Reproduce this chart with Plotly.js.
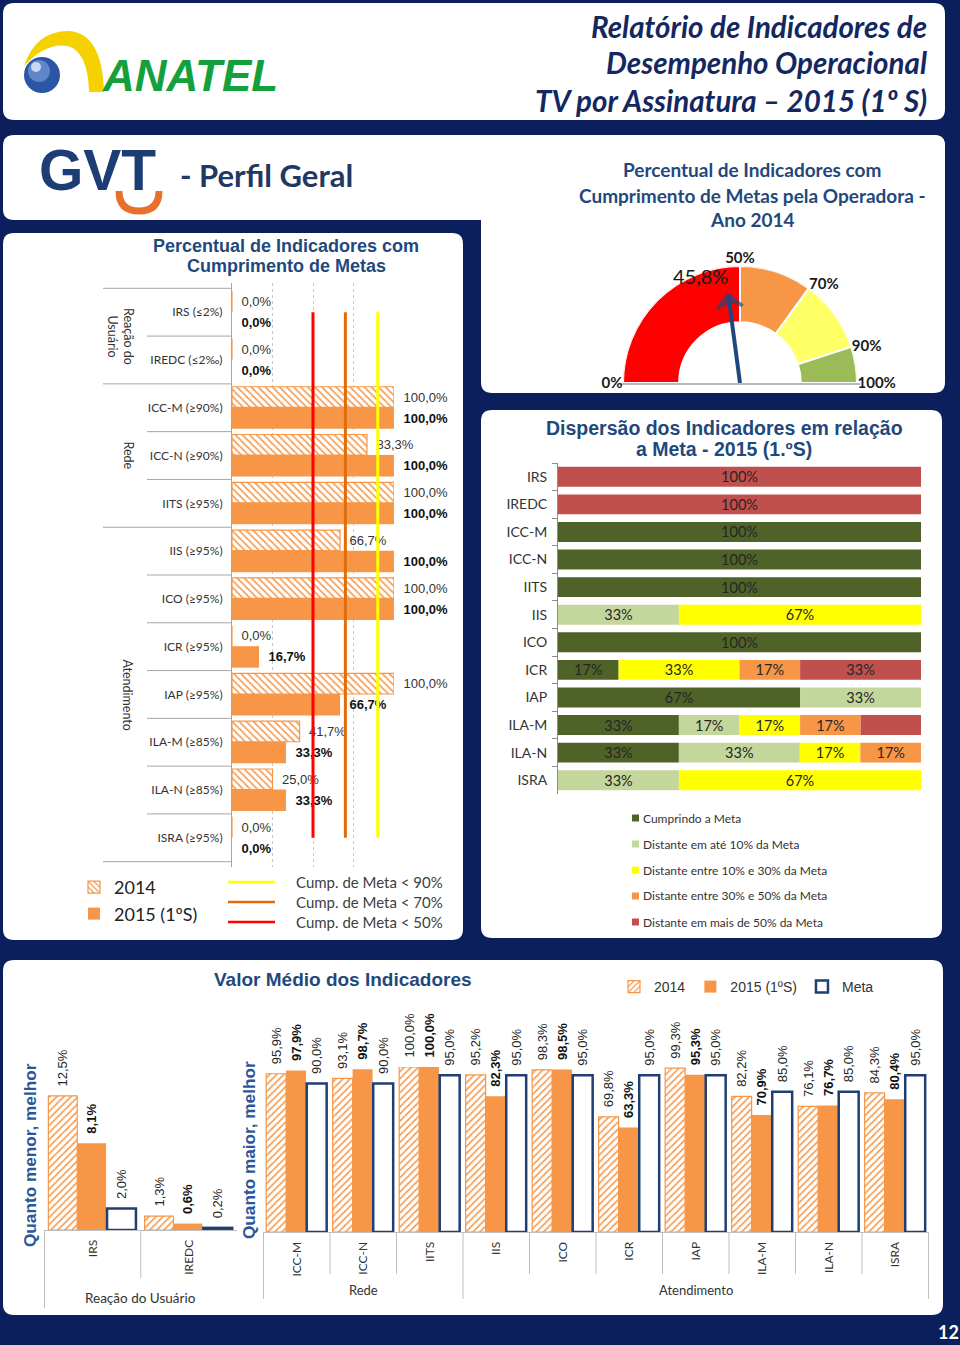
<!DOCTYPE html>
<html><head><meta charset="utf-8">
<script src="https://cdn.plot.ly/plotly-3.0.1.min.js"></script>
<style>html,body{margin:0;padding:0;background:#0b1f5c;}#chart{width:960px;height:1345px;}</style>
</head><body><div id="chart"></div>
<script>
// ---------------- DATA ----------------
const indicatorLabels = ['IRS (≤2%)','IREDC (≤2‰)','ICC-M (≥90%)','ICC-N (≥90%)','IITS (≥95%)','IIS (≥95%)','ICO (≥95%)','ICR (≥95%)','IAP (≥95%)','ILA-M (≥85%)','ILA-N (≥85%)','ISRA (≥95%)'];
const pct2014 = [0,0,100,83.3,100,66.7,100,0,100,41.7,25,0];
const pct2015 = [0,0,100,100,100,100,100,16.7,66.7,33.3,33.3,0];
const groupNames = ['Reação do<br>Usuário','Rede','Atendimento'];
const groupSizes = [2,3,7];
const seriesNames = ['2014','2015 (1ºS)','Meta'];

const thresholds = [90,70,50];
const thresholdLabels = ['Cump. de Meta < 90%','Cump. de Meta < 70%','Cump. de Meta < 50%'];

const gaugeBreaks = [0,50,70,90,100];
const gaugeValue = 45.8;

const dispCats = ['IRS','IREDC','ICC-M','ICC-N','IITS','IIS','ICO','ICR','IAP','ILA-M','ILA-N','ISRA'];
const dispNames = ['Cumprindo a Meta','Distante em até 10% da Meta','Distante entre 10% e 30% da Meta','Distante entre 30% e 50% da Meta','Distante em mais de 50% da Meta'];
const dispMeets   = [0,0,100,100,100,0,100,16.7,66.7,33.3,33.3,0];
const dispUpTo10  = [0,0,0,0,0,33.3,0,0,33.3,16.7,33.3,33.3];
const disp10to30  = [0,0,0,0,0,66.7,0,33.3,0,16.7,16.7,66.7];
const disp30to50  = [0,0,0,0,0,0,0,16.7,0,16.7,16.7,0];
const dispOver50  = [100,100,0,0,0,0,0,33.3,0,16.7,0,0];
const dispUnlabeled = [[4,'ILA-M']];

const avgCats = ['IRS','IREDC','ICC-M','ICC-N','IITS','IIS','ICO','ICR','IAP','ILA-M','ILA-N','ISRA'];
const avg2014 = [12.5,1.3,95.9,93.1,100,95.2,98.3,69.8,99.3,82.2,76.1,84.3];
const avg2015 = [8.1,0.6,97.9,98.7,100,82.3,98.5,63.3,95.3,70.9,76.7,80.4];
const avgMeta = [2.0,0.2,90,90,95,95,95,95,95,85,85,95];
const avgGroupNames = ['Reação do Usuário','Rede','Atendimento'];
const lowerBetterCount = 2;

// ---------------- STYLE ----------------
const NAVY = '#0b1f5c', ORANGE = '#F79646', DBLUE = '#1f497d';
const CAL = 'Lato, "Open Sans", sans-serif';
const ARI = '"Liberation Sans", Arial, sans-serif';
const thresholdColors = ['#FFFF00','#E36C09','#FF0000'];
const gaugeColors = ['#FF0000','#F79646','#FFFF66','#9BBB59'];
const dispColors = ['#4F6228','#C3D69B','#FFFF00','#F79646','#C0504D'];

const W = 960, H = 1345;
const X = p => p / W, Y = p => 1 - p / H;
const pth = s => s.replace(/(-?\d+(?:\.\d+)?)[ ,]+(-?\d+(?:\.\d+)?)/g, (m,a,b) => X(+a).toFixed(5)+','+Y(+b).toFixed(5));
function rrect(x0,y0,x1,y1,r){
  return pth(`M ${x0+r} ${y0} L ${x1-r} ${y0} Q ${x1} ${y0} ${x1} ${y0+r} L ${x1} ${y1-r} Q ${x1} ${y1} ${x1-r} ${y1} L ${x0+r} ${y1} Q ${x0} ${y1} ${x0} ${y1-r} L ${x0} ${y0+r} Q ${x0} ${y0} ${x0+r} ${y0} Z`);
}
function txt(x,y,text,o){
  o = o || {};
  return {xref:'paper',yref:'paper',x:X(x),y:Y(y),text:text,showarrow:false,
    xanchor:o.xa||'center',yanchor:o.ya||'middle',textangle:o.angle||0,align:o.align||'center',
    font:{family:o.family||CAL,size:o.size||12,color:o.color||'#222',weight:o.weight||'normal',style:o.style||'normal'}};
}

const shapes = [];
const annotations = [];
const traces = [];

// panels
[[3,3,945,120],[3,135,945,220],[481,135,945,393],[3,233,463,940],[481,410,942,938],[3,960,943,1315]].forEach(r=>{
  shapes.push({type:'path',xref:'paper',yref:'paper',path:rrect(r[0],r[1],r[2],r[3],11),fillcolor:'#fff',line:{width:0},layer:'below'});
});

// ANATEL logo
shapes.push({type:'path',xref:'paper',yref:'paper',layer:'below',fillcolor:'#F5D100',line:{width:0},
  path:pth('M 24 66 Q 36 31 68 31 Q 102 32 104 92 L 89 92 Q 88 52 68 46 Q 46 42 24 66 Z')});
shapes.push({type:'circle',xref:'paper',yref:'paper',layer:'below',x0:X(24),x1:X(60),y0:Y(93),y1:Y(57),fillcolor:'#2a56a4',line:{width:0}});
shapes.push({type:'circle',xref:'paper',yref:'paper',layer:'below',x0:X(28),x1:X(50),y0:Y(82),y1:Y(60),fillcolor:'#5f86c9',line:{width:0}});
shapes.push({type:'circle',xref:'paper',yref:'paper',layer:'below',x0:X(31),x1:X(41),y0:Y(72),y1:Y(62),fillcolor:'#c9d8f0',line:{width:0}});
annotations.push(txt(100,76,'ANATEL',{xa:'left',family:ARI,size:44,color:'#14a03c',weight:'bold',style:'italic'}));

// header title
['Relatório de Indicadores de','Desempenho Operacional','TV por Assinatura – 2015 (1º S)'].forEach((t,i)=>{
  annotations.push(txt(929,[27,63,100][i],t,{xa:'right',size:29.5,color:'#14285f',weight:'bold',style:'italic'}));
});

// GVT logo
annotations.push(txt(37,170,'GVT',{xa:'left',family:ARI,size:57,color:'#1d3e75',weight:'bold'}));
shapes.push({type:'path',xref:'paper',yref:'paper',layer:'below',fillcolor:'rgba(0,0,0,0)',line:{color:'#e8702a',width:7},
  path:pth('M 119 191 Q 119 211 139 211 Q 159 211 159 191')});
annotations.push(txt(178,175,'- Perfil Geral',{xa:'left',size:31,color:'#1f3864',weight:'bold'}));

// ---------------- LEFT CHART ----------------
['Percentual de Indicadores com','Cumprimento de Metas'].forEach((t,i)=>
  annotations.push(txt(286,[246,266][i],t,{family:ARI,size:18,color:DBLUE,weight:'bold'})));

traces.push({type:'bar',orientation:'h',name:seriesNames[0],x:pct2014,y:indicatorLabels,xaxis:'x',yaxis:'y',
  offset:-0.44,width:0.43,legend:'legend',
  marker:{color:'#fff',line:{color:ORANGE,width:1.2},pattern:{shape:'\\',fgcolor:ORANGE,bgcolor:'#fff',size:5,solidity:0.3}},
  texttemplate:'\u2002%{x:.1f}%',textposition:'outside',cliponaxis:false,constraintext:'none',
  textfont:{family:ARI,size:13,color:'#333'},hoverinfo:'skip'});
traces.push({type:'bar',orientation:'h',name:seriesNames[1],x:pct2015,y:indicatorLabels,xaxis:'x',yaxis:'y',
  offset:-0.01,width:0.45,legend:'legend',
  marker:{color:ORANGE,line:{width:0}},
  texttemplate:'\u2002%{x:.1f}%',textposition:'outside',cliponaxis:false,constraintext:'none',
  textfont:{family:ARI,size:13,color:'#111',weight:'bold'},hoverinfo:'skip'});
thresholds.forEach((t,i)=>{
  traces.push({type:'scatter',mode:'lines',x:[t,t],y:[indicatorLabels[0],indicatorLabels[indicatorLabels.length-1]],
    xaxis:'x',yaxis:'y',line:{color:thresholdColors[i],width:3},showlegend:false,hoverinfo:'skip',cliponaxis:false});
});
// row separators and group labels
{
  const groupStarts = [0];
  groupSizes.forEach((s,i)=>groupStarts.push(groupStarts[i]+s));
  for(let b=0;b<=indicatorLabels.length;b++){
    const isGroup = groupStarts.includes(b);
    shapes.push({type:'line',xref:'paper',yref:'y',x0:X(isGroup?103:147),x1:X(232),y0:b-0.5,y1:b-0.5,line:{color:'#a6a6a6',width:1}});
  }
  groupNames.forEach((g,i)=>{
    annotations.push({xref:'paper',yref:'y',x:X(i===0?121:128),y:(groupStarts[i]+groupStarts[i+1]-1)/2,text:g,showarrow:false,
      xanchor:'center',yanchor:'middle',textangle:90,font:{family:CAL,size:12.5,color:'#333'}});
  });
}
// threshold legend (manual)
thresholds.forEach((t,i)=>{
  const yy = [882,902,922][i];
  shapes.push({type:'line',xref:'paper',yref:'paper',x0:X(228),x1:X(275),y0:Y(yy),y1:Y(yy),line:{color:thresholdColors[i],width:2.5}});
  annotations.push(txt(294,yy,thresholdLabels[i],{xa:'left',size:15,color:'#404040'}));
});

// ---------------- GAUGE ----------------
['Percentual de Indicadores com','Cumprimento de Metas pela Operadora -','Ano 2014'].forEach((t,i)=>
  annotations.push(txt(752,[170,195,219][i],t,{size:19,color:DBLUE,weight:'bold'})));
const deg = p => p*1.8;
{
  const th=[],wd=[],rr=[],bs=[];
  for(let i=0;i<gaugeBreaks.length-1;i++){
    th.push(deg((gaugeBreaks[i]+gaugeBreaks[i+1])/2)); wd.push(deg(gaugeBreaks[i+1]-gaugeBreaks[i])); rr.push(0.48); bs.push(0.52);
  }
  traces.push({type:'barpolar',subplot:'polar',theta:th,width:wd,r:rr,base:bs,
    marker:{color:gaugeColors,line:{color:'#fff',width:2}},showlegend:false,hoverinfo:'skip'});
}
shapes.push({type:'line',xref:'paper',yref:'paper',x0:X(620),x1:X(860),y0:Y(384),y1:Y(384),line:{color:'#a0a0a0',width:1.5},layer:'below'});
traces.push({type:'scatterpolar',subplot:'polar',r:[0,0.76],theta:[deg(gaugeValue),deg(gaugeValue)],mode:'lines+markers',
  line:{color:DBLUE,width:4},
  marker:{symbol:['circle','arrow-wide-open'],size:[15,18],color:DBLUE,angleref:'previous',line:{color:DBLUE,width:[0,3.5]}},
  showlegend:false,hoverinfo:'skip',cliponaxis:false});
annotations.push(txt(700,276,gaugeValue.toFixed(1).replace('.',',')+'%',{size:20,color:'#1a1a1a'}));

// ---------------- DISPERSION ----------------
['Dispersão dos Indicadores em relação','a Meta - 2015 (1.ºS)'].forEach((t,i)=>
  annotations.push(txt(724,[428,449][i],t,{family:ARI,size:19.5,color:DBLUE,weight:'bold'})));
{
  const series = [dispMeets,dispUpTo10,disp10to30,disp30to50,dispOver50];
  let cum = dispCats.map(()=>0);
  series.forEach((vals,s)=>{
    const base = cum.slice();
    const text = vals.map((v,i)=> (v>0 && !dispUnlabeled.some(u=>u[0]===s&&u[1]===dispCats[i])) ? Math.round(v)+'%' : '');
    traces.push({type:'bar',orientation:'h',name:dispNames[s],x:vals,base:base,y:dispCats,xaxis:'x2',yaxis:'y2',width:0.72,
      marker:{color:dispColors[s],line:{width:0}},text:text,textposition:'inside',insidetextanchor:'middle',textangle:0,
      constraintext:'none',textfont:{family:CAL,size:14.5,color:'#262626'},showlegend:false,hoverinfo:'skip'});
    cum = cum.map((c,i)=>c+vals[i]);
  });
  dispNames.forEach((n,i)=>{
    const yy = 818+26*i;
    shapes.push({type:'rect',xref:'paper',yref:'paper',x0:X(632),x1:X(639),y0:Y(yy+3.5),y1:Y(yy-3.5),fillcolor:dispColors[i],line:{width:0}});
    annotations.push(txt(641,yy,n,{xa:'left',size:12,color:'#333'}));
  });
}

// ---------------- BOTTOM CHART ----------------
annotations.push(txt(343,979,'Valor Médio dos Indicadores',{family:ARI,size:19,color:DBLUE,weight:'bold'}));
const bottomSets = [
  {xa:'x3',ya:'y3',from:0,to:lowerBetterCount,legend:false},
  {xa:'x4',ya:'y4',from:lowerBetterCount,to:avgCats.length,legend:true}
];
bottomSets.forEach(bs=>{
  const cats = avgCats.slice(bs.from,bs.to);
  const common = {type:'bar',x:cats,xaxis:bs.xa,yaxis:bs.ya,width:0.3,textposition:'outside',textangle:-90,
    cliponaxis:false,constraintext:'none',texttemplate:'\u2002%{y:.1f}%',hoverinfo:'skip',legend:'legend2',showlegend:bs.legend};
  traces.push(Object.assign({},common,{name:seriesNames[0],y:avg2014.slice(bs.from,bs.to),offset:-0.46,
    marker:{color:'#fff',line:{color:ORANGE,width:1.2},pattern:{shape:'/',fgcolor:ORANGE,bgcolor:'#fff',size:5,solidity:0.3}},
    textfont:{family:ARI,size:13,color:'#262626'}}));
  traces.push(Object.assign({},common,{name:seriesNames[1],y:avg2015.slice(bs.from,bs.to),offset:-0.16,
    marker:{color:ORANGE,line:{width:0}},textfont:{family:ARI,size:13,color:'#111',weight:'bold'}}));
  traces.push(Object.assign({},common,{name:seriesNames[2],y:avgMeta.slice(bs.from,bs.to),offset:0.15,
    marker:{color:'#fff',line:{color:'#1f3f73',width:2.5}},textfont:{family:ARI,size:13,color:'#262626'}}));
});
// dividers
shapes.push({type:'line',xref:'x3',yref:'paper',x0:-0.5,x1:-0.5,y0:Y(1230),y1:Y(1308),line:{color:'#bfbfbf',width:1}});
for(let b=0.5;b<lowerBetterCount-0.5;b++) shapes.push({type:'line',xref:'x3',yref:'paper',x0:b,x1:b,y0:Y(1230),y1:Y(1278),line:{color:'#bfbfbf',width:1}});
{
  const n = avgCats.length - lowerBetterCount;
  const gStarts = [0, groupSizes[1], groupSizes[1]+groupSizes[2]];
  for(let b=0;b<=n;b++){
    const long = gStarts.includes(b);
    shapes.push({type:'line',xref:'x4',yref:'paper',x0:b-0.5,x1:b-0.5,y0:Y(1232),y1:Y(long?1299:1274),line:{color:'#bfbfbf',width:1}});
  }
  annotations.push({xref:'x3',yref:'paper',x:(lowerBetterCount-1)/2,y:Y(1298),text:avgGroupNames[0],showarrow:false,xanchor:'center',yanchor:'middle',font:{family:CAL,size:13.5,color:'#333'}});
  annotations.push({xref:'x4',yref:'paper',x:(groupSizes[1]-1)/2,y:Y(1290),text:avgGroupNames[1],showarrow:false,xanchor:'center',yanchor:'middle',font:{family:CAL,size:13,color:'#333'}});
  annotations.push({xref:'x4',yref:'paper',x:groupSizes[1]+(groupSizes[2]-1)/2,y:Y(1290),text:avgGroupNames[2],showarrow:false,xanchor:'center',yanchor:'middle',font:{family:CAL,size:13,color:'#333'}});
}
annotations.push(txt(30,1155,'Quanto menor, melhor',{angle:-90,family:ARI,size:17.2,color:'#2b579a',weight:'bold'}));
annotations.push(txt(249,1150,'Quanto maior, melhor',{angle:-90,family:ARI,size:17.2,color:'#2b579a',weight:'bold'}));

// page number
annotations.push(txt(948,1332,'12',{size:18,color:'#fff',weight:'bold'}));

const hiddenX = {showticklabels:false,showgrid:false,zeroline:false,showline:false,ticks:'',fixedrange:true};
const layout = {
  width:W,height:H,margin:{l:0,r:0,t:0,b:0},paper_bgcolor:NAVY,plot_bgcolor:'rgba(0,0,0,0)',
  barmode:'overlay',separators:',.',hovermode:false,font:{family:CAL},
  xaxis:{domain:[X(232),X(394)],range:[0,100],anchor:'y',showticklabels:false,showgrid:true,gridcolor:'#c8c8c8',griddash:'dot',
    dtick:25,zeroline:false,showline:false,ticks:'',fixedrange:true},
  yaxis:{domain:[Y(867),Y(283)],anchor:'x',type:'category',categoryorder:'array',categoryarray:indicatorLabels,autorange:'reversed',
    showline:true,linecolor:'#a6a6a6',ticks:'',showgrid:false,ticklabelstandoff:6,tickfont:{family:CAL,size:12,color:'#333'},fixedrange:true},
  xaxis2:Object.assign({domain:[X(558),X(921)],range:[0,100],anchor:'y2'},hiddenX),
  yaxis2:{domain:[Y(794),Y(463)],anchor:'x2',type:'category',categoryorder:'array',categoryarray:dispCats,autorange:'reversed',
    showline:true,linecolor:'#8c8c8c',ticks:'outside',tickson:'boundaries',ticklen:5,tickcolor:'#8c8c8c',showgrid:false,
    ticklabelstandoff:7,tickfont:{family:CAL,size:14,color:'#333'},fixedrange:true},
  xaxis3:{domain:[X(44),X(237)],anchor:'y3',type:'category',tickangle:-90,showline:true,linecolor:'#bfbfbf',ticks:'',showgrid:false,
    tickfont:{family:CAL,size:12,color:'#333'},ticklabelstandoff:4,fixedrange:true},
  yaxis3:Object.assign({domain:[Y(1230),Y(1067)],range:[0,15.2],anchor:'x3'},hiddenX),
  xaxis4:{domain:[X(263),X(929)],anchor:'y4',type:'category',tickangle:-90,showline:true,linecolor:'#bfbfbf',ticks:'',showgrid:false,
    tickfont:{family:CAL,size:12,color:'#333'},ticklabelstandoff:4,fixedrange:true},
  yaxis4:Object.assign({domain:[Y(1232),Y(1067)],range:[0,100],anchor:'x4'},hiddenX),
  polar:{domain:{x:[X(623),X(857)],y:[Y(383),Y(266)]},sector:[0,180],bgcolor:'rgba(0,0,0,0)',
    radialaxis:{visible:false,range:[0,1]},
    angularaxis:{direction:'clockwise',rotation:180,tickmode:'array',tickvals:gaugeBreaks.map(deg),ticktext:gaugeBreaks.map(b=>b+'%'),
      showline:false,showgrid:false,ticks:'',tickfont:{family:CAL,size:15,color:'#1a1a1a',weight:'bold'}}},
  legend:{x:X(74),y:Y(869),xanchor:'left',yanchor:'top',orientation:'v',bgcolor:'rgba(0,0,0,0)',
    font:{family:CAL,size:18,color:'#222'},itemclick:false,itemdoubleclick:false},
  legend2:{x:X(614),y:Y(987),xanchor:'left',yanchor:'middle',orientation:'h',bgcolor:'rgba(0,0,0,0)',
    font:{family:ARI,size:14,color:'#333'},itemclick:false,itemdoubleclick:false},
  shapes:shapes,annotations:annotations
};
Plotly.newPlot('chart',traces,layout,{staticPlot:true,displayModeBar:false});
</script></body></html>
